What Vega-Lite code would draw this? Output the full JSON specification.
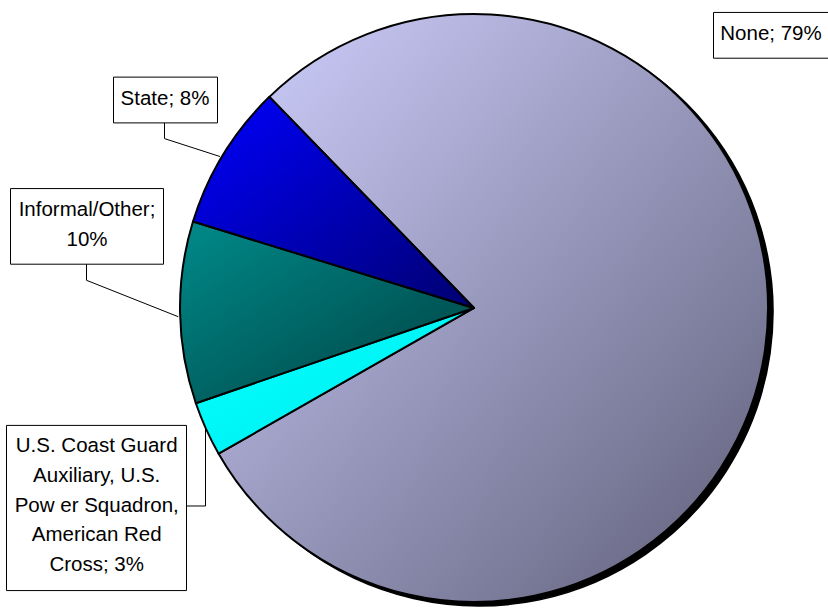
{
  "$schema": "https://vega.github.io/schema/vega-lite/v6.json",
  "width": 828,
  "height": 608,
  "autosize": {"type": "fit", "contains": "padding"},
  "padding": 0,
  "background": "white",
  "config": {"view": {"stroke": null}, "font": "Liberation Sans"},
  "data": {"values": [
    {"cat": "None", "value": 79, "order": 1, "label": ["None; 79%"]},
    {"cat": "U.S. Coast Guard Auxiliary, U.S. Power Squadron, American Red Cross", "value": 3, "order": 2, "label": ["U.S. Coast Guard", "Auxiliary, U.S.", "Pow er Squadron,", "American Red", "Cross; 3%"]},
    {"cat": "Informal/Other", "value": 10, "order": 3, "label": ["Informal/Other;", "10%"]},
    {"cat": "State", "value": 8, "order": 4, "label": ["State; 8%"]}
  ]},
  "layer": [
    {
      "mark": {"type": "arc", "outerRadius": 294, "fill": "#000000", "stroke": "#000000", "strokeWidth": 1.5, "xOffset": 5, "yOffset": 4},
      "encoding": {
        "theta": {"field": "value", "type": "quantitative", "stack": true, "scale": {"domain": [0, 100], "range": [-0.7697, 5.5135]}},
        "order": {"field": "order", "type": "quantitative"},
        "x": {"datum": 0, "type": "quantitative", "scale": {"domain": [-474, 354], "nice": false, "zero": false}, "axis": null},
        "y": {"datum": 0, "type": "quantitative", "scale": {"domain": [-298.5, 309.5], "nice": false, "zero": false}, "axis": null}
      }
    },
    {
      "mark": {"type": "arc", "outerRadius": 294, "stroke": "#000000", "strokeWidth": 2, "strokeJoin": "round"},
      "encoding": {
        "theta": {"field": "value", "type": "quantitative", "stack": true, "scale": {"domain": [0, 100], "range": [-0.7697, 5.5135]}},
        "order": {"field": "order", "type": "quantitative"},
        "x": {"datum": 0, "type": "quantitative"},
        "y": {"datum": 0, "type": "quantitative"},
        "fill": {
          "condition": [
            {"test": "datum.cat === 'None'", "value": {"gradient": "linear", "x1": 0, "y1": 0, "x2": 1, "y2": 1, "stops": [{"offset": 0, "color": "#d0d0ff"}, {"offset": 1, "color": "#5e5e78"}]}},
            {"test": "datum.cat === 'State'", "value": {"gradient": "linear", "x1": 0, "y1": 0, "x2": 1, "y2": 1, "stops": [{"offset": 0, "color": "#0000ff"}, {"offset": 1, "color": "#000070"}]}},
            {"test": "datum.cat === 'Informal/Other'", "value": {"gradient": "linear", "x1": 0, "y1": 0, "x2": 1, "y2": 1, "stops": [{"offset": 0, "color": "#008a8a"}, {"offset": 1, "color": "#004040"}]}}
          ],
          "value": {"gradient": "linear", "x1": 0, "y1": 0, "x2": 1, "y2": 1, "stops": [{"offset": 0, "color": "#00ffff"}, {"offset": 1, "color": "#00eeee"}]}
        }
      }
    },
    {
      "transform": [{"filter": "datum.cat === 'None'"}],
      "mark": {"type": "rect", "fill": "white", "stroke": "black", "strokeWidth": 1, "clip": true},
      "encoding": {"x": {"datum": 239.5, "type": "quantitative"}, "x2": {"datum": 380}, "y": {"datum": 297}, "y2": {"datum": 251}}
    },
    {
      "transform": [{"filter": "datum.cat === 'State'"}],
      "mark": {"type": "rect", "fill": "white", "stroke": "black", "strokeWidth": 1},
      "encoding": {"x": {"datum": -360.5, "type": "quantitative"}, "x2": {"datum": -256.5}, "y": {"datum": 232}, "y2": {"datum": 186}}
    },
    {
      "transform": [{"filter": "datum.cat === 'Informal/Other'"}],
      "mark": {"type": "rect", "fill": "white", "stroke": "black", "strokeWidth": 1},
      "encoding": {"x": {"datum": -463.5, "type": "quantitative"}, "x2": {"datum": -310.5}, "y": {"datum": 120}, "y2": {"datum": 44}}
    },
    {
      "transform": [{"filter": "datum.order === 2"}],
      "mark": {"type": "rect", "fill": "white", "stroke": "black", "strokeWidth": 1},
      "encoding": {"x": {"datum": -467.5, "type": "quantitative"}, "x2": {"datum": -287.5}, "y": {"datum": -118}, "y2": {"datum": -284}}
    },
    {
      "transform": [{"filter": "datum.cat === 'None'"}],
      "mark": {"type": "text", "fontSize": 20.5, "font": "Liberation Sans", "lineHeight": 30, "align": "center", "baseline": "middle", "color": "black"},
      "encoding": {"x": {"datum": 297, "type": "quantitative"}, "y": {"datum": 275.5, "type": "quantitative"}, "text": {"field": "label"}}
    },
    {
      "transform": [{"filter": "datum.cat === 'State'"}],
      "mark": {"type": "text", "fontSize": 20.5, "font": "Liberation Sans", "lineHeight": 30, "align": "center", "baseline": "middle", "color": "black"},
      "encoding": {"x": {"datum": -309, "type": "quantitative"}, "y": {"datum": 210.5, "type": "quantitative"}, "text": {"field": "label"}}
    },
    {
      "transform": [{"filter": "datum.cat === 'Informal/Other'"}],
      "mark": {"type": "text", "fontSize": 20.5, "font": "Liberation Sans", "lineHeight": 29.5, "align": "center", "baseline": "middle", "color": "black"},
      "encoding": {"x": {"datum": -387, "type": "quantitative"}, "y": {"datum": 98.2, "type": "quantitative"}, "text": {"field": "label"}}
    },
    {
      "transform": [{"filter": "datum.order === 2"}],
      "mark": {"type": "text", "fontSize": 20.5, "font": "Liberation Sans", "lineHeight": 29.8, "align": "center", "baseline": "middle", "color": "black"},
      "encoding": {"x": {"datum": -377.3, "type": "quantitative"}, "y": {"datum": -138.8, "type": "quantitative"}, "text": {"field": "label"}}
    },
    {
      "transform": [{"filter": "datum.cat === 'State'"}],
      "mark": {"type": "rule", "color": "black", "strokeWidth": 1},
      "encoding": {"x": {"datum": -309.5, "type": "quantitative"}, "y": {"datum": 186, "type": "quantitative"}, "x2": {"datum": -309.5}, "y2": {"datum": 170.2}}
    },
    {
      "transform": [{"filter": "datum.cat === 'State'"}],
      "mark": {"type": "rule", "color": "black", "strokeWidth": 1},
      "encoding": {"x": {"datum": -309.5, "type": "quantitative"}, "y": {"datum": 170.2, "type": "quantitative"}, "x2": {"datum": -254}, "y2": {"datum": 152.2}}
    },
    {
      "transform": [{"filter": "datum.cat === 'Informal/Other'"}],
      "mark": {"type": "rule", "color": "black", "strokeWidth": 1},
      "encoding": {"x": {"datum": -387.5, "type": "quantitative"}, "y": {"datum": 44, "type": "quantitative"}, "x2": {"datum": -387.5}, "y2": {"datum": 27.8}}
    },
    {
      "transform": [{"filter": "datum.cat === 'Informal/Other'"}],
      "mark": {"type": "rule", "color": "black", "strokeWidth": 1},
      "encoding": {"x": {"datum": -387.5, "type": "quantitative"}, "y": {"datum": 27.8, "type": "quantitative"}, "x2": {"datum": -295.7}, "y2": {"datum": -8.8}}
    },
    {
      "transform": [{"filter": "datum.order === 2"}],
      "mark": {"type": "rule", "color": "black", "strokeWidth": 1},
      "encoding": {"x": {"datum": -287.5, "type": "quantitative"}, "y": {"datum": -199, "type": "quantitative"}, "x2": {"datum": -268.5}, "y2": {"datum": -199}}
    },
    {
      "transform": [{"filter": "datum.order === 2"}],
      "mark": {"type": "rule", "color": "black", "strokeWidth": 1},
      "encoding": {"x": {"datum": -268.5, "type": "quantitative"}, "y": {"datum": -199, "type": "quantitative"}, "x2": {"datum": -268.5}, "y2": {"datum": -120.5}}
    }
  ]
}
